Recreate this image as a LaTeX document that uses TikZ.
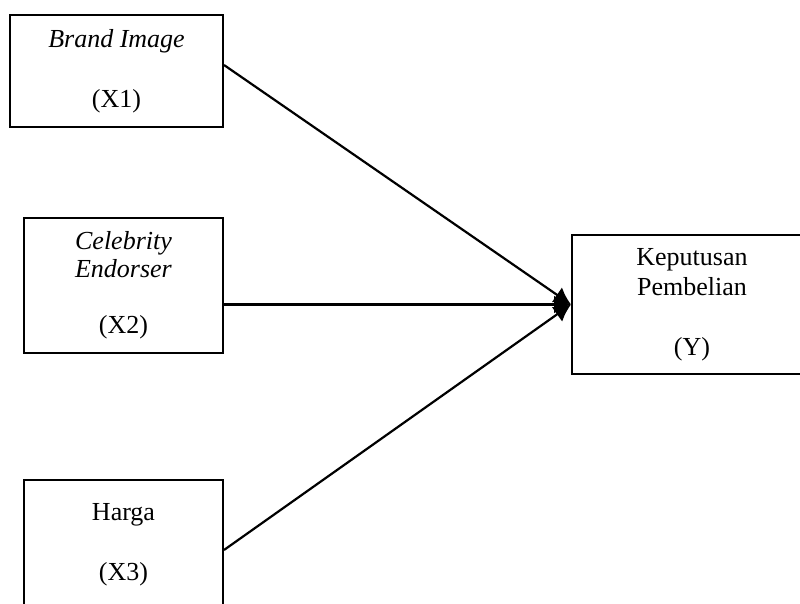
\documentclass[tikz,border=0pt]{standalone}
\usepackage{fontspec}
\setmainfont{Liberation Serif}
\usetikzlibrary{arrows.meta,positioning}

\begin{document}
\begin{tikzpicture}[x=0.5pt, y=-0.5pt, >={Latex[length=8.5pt,width=9pt]},
  font=\fontsize{13}{15}\selectfont,
  varbox/.style={draw, line width=1pt, align=center, inner sep=0pt},
  link/.style={->, line width=1.1pt}]

  \clip (0,0) rectangle (800,604);

  % ---- independent variables ----
  \node[varbox, minimum width=106.5pt, minimum height=56pt] (x1) at (116.5,71)
    {\textit{Brand Image}\\[\baselineskip](X1)};
  \node[varbox, minimum width=99.5pt, minimum height=67.5pt,
        font=\fontsize{13}{14}\selectfont] (x2) at (123.5,285.5)
    {\textit{Celebrity}\\\textit{Endorser}\\[\baselineskip](X2)};
  \node[varbox, minimum width=99.5pt, minimum height=65pt] (x3) at (123.5,545)
    {Harga\\[\baselineskip](X3)};

  % ---- dependent variable ----
  \node[varbox, minimum width=120pt, minimum height=69.5pt] (y) at (692,304.5)
    {Keputusan\\Pembelian\\[\baselineskip](Y)};

  % ---- paths ----
  \draw[link] ([yshift=3pt]x1.east) -- (y.west);
  \draw[link] (x2.east |- y.west) -- (y.west);
  \draw[link] ([yshift=-2.5pt]x3.east) -- (y.west);

\end{tikzpicture}
\end{document}
